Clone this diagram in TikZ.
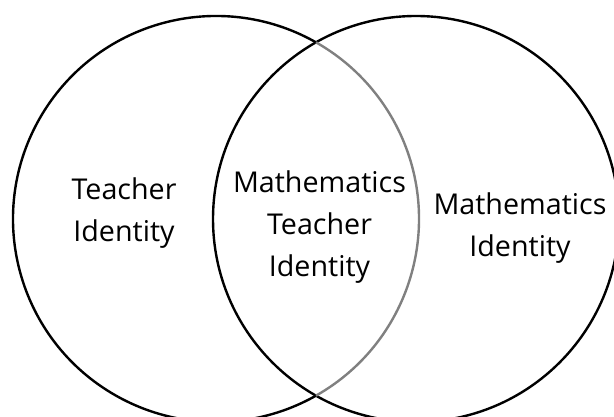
\documentclass[tikz,border=0pt]{standalone}
\usepackage{fontspec}
\setmainfont{Open Sans}
\usetikzlibrary{positioning}
\begin{document}
\begin{tikzpicture}[x=0.75pt,y=0.75pt,
    setring/.style={line width=1.8pt,draw=black},
    overlap/.style={line width=1.8pt,draw=gray},
    setlabel/.style={font=\fontsize{21.5}{31.5}\selectfont,
      align=center,inner sep=0pt}]
  \useasboundingbox (0,0) rectangle (614,417);

  % the two sets
  \coordinate (cL) at (216,198);
  \coordinate (cR) at (416,198);
  \draw[setring] (cR) circle[radius=203];
  \draw[setring] (cL) ++(60.5:203) arc[start angle=60.5,end angle=299.5,radius=203];
  \draw[overlap] (cL) ++(-60.5:203) arc[start angle=-60.5,end angle=60.5,radius=203];

  % labels
  \node[setlabel] (teach) at (124,204) {Teacher\\Identity};
  \node[setlabel] (both) at (319.5,189.5) {Mathematics\\Teacher\\Identity};
  \node[setlabel] (maths) at (520,189) {Mathematics\\Identity};
\end{tikzpicture}
\end{document}
